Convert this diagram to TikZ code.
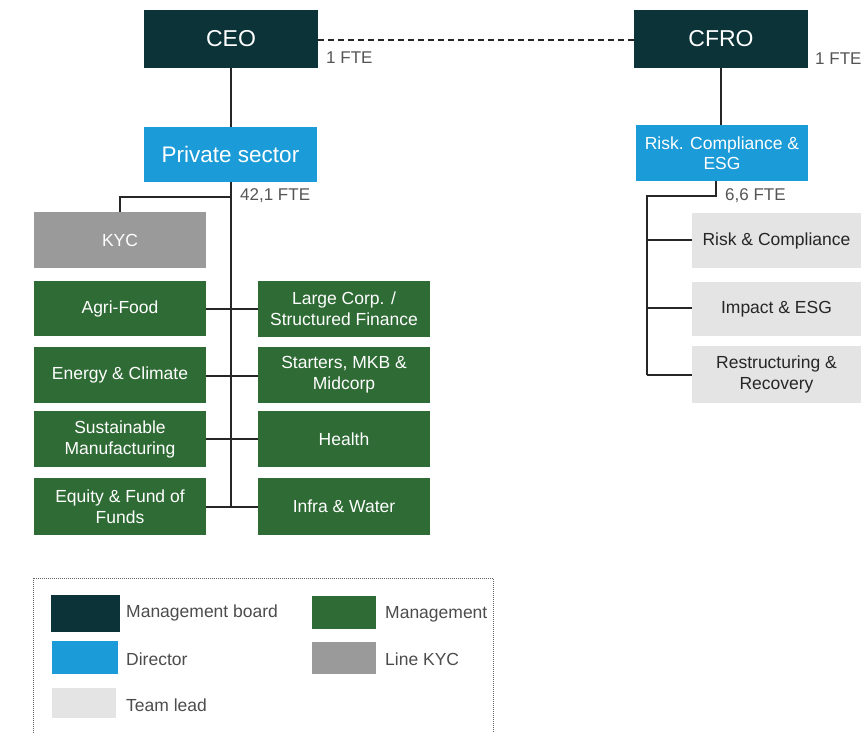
\documentclass[tikz,border=0pt]{standalone}
\usepackage{fontspec}
\setmainfont{Liberation Sans}
\definecolor{board}{HTML}{0B3338}
\definecolor{director}{HTML}{1B9BD7}
\definecolor{mgmt}{HTML}{2F6B35}
\definecolor{kyc}{HTML}{9A9A9A}
\definecolor{team}{HTML}{E4E4E4}
\definecolor{fte}{HTML}{555555}
\begin{document}
\begin{tikzpicture}[x=1pt,y=-1pt,
  boardbox/.style={fill=board,text=white,font=\fontsize{23}{25}\selectfont},
  dirbox/.style={fill=director,text=white},
  mgmtbox/.style={fill=mgmt,text=white,font=\fontsize{17.5}{21}\selectfont},
  kycbox/.style={fill=kyc,text=white,font=\fontsize{17.5}{21}\selectfont},
  teambox/.style={fill=team,text=black!85,font=\fontsize{17.5}{21}\selectfont},
  ftelbl/.style={text=fte,font=\fontsize{17}{19}\selectfont,inner sep=0pt,anchor=west},
  conn/.style={draw=black!85,line width=1.3pt},
  leglbl/.style={text=black!70,font=\fontsize{17.5}{19}\selectfont,inner sep=0pt,anchor=west}]
\useasboundingbox (0,0) rectangle (861,732);
% boxes
\path[boardbox] (144,10) rectangle (318,68) node[midway,text=white] (ceo) {CEO};
\path[boardbox] (634,10) rectangle (808,68) node[midway,text=white] (cfro) {CFRO};
\path[dirbox] (144,127) rectangle (317,182) node[midway,text=white,font=\fontsize{22.5}{24}\selectfont] (ps) {Private sector};
\path[dirbox] (636,125) rectangle (808,181) node[midway,text=white,align=center,font=\fontsize{17.5}{20}\selectfont] (rce) {Risk. Compliance \&\\ESG};
\path[kycbox] (34,212) rectangle (206,268) node[midway,text=white] (kyc) {KYC};
\path[mgmtbox] (34,281) rectangle (206,336) node[midway,text=white] (agri) {Agri-Food};
\path[mgmtbox] (258,281) rectangle (430,337) node[midway,text=white,align=center] (large) {Large Corp. /\\Structured Finance};
\path[mgmtbox] (34,347) rectangle (206,403) node[midway,text=white] (energy) {Energy \& Climate};
\path[mgmtbox] (258,347) rectangle (430,403) node[midway,text=white,align=center] (start) {Starters, MKB \&\\Midcorp};
\path[mgmtbox] (34,411) rectangle (206,467) node[midway,text=white,align=center] (sust) {Sustainable\\Manufacturing};
\path[mgmtbox] (258,411) rectangle (430,467) node[midway,text=white] (health) {Health};
\path[mgmtbox] (34,478) rectangle (206,535) node[midway,text=white,align=center] (equity) {Equity \& Fund of\\Funds};
\path[mgmtbox] (258,478) rectangle (430,535) node[midway,text=white] (infra) {Infra \& Water};
\path[teambox] (692,213) rectangle (861,268) node[midway,text=black!85] (rc) {Risk \& Compliance};
\path[teambox] (692,282) rectangle (861,336) node[midway,text=black!85] (ie) {Impact \& ESG};
\path[teambox] (692,346) rectangle (861,403) node[midway,text=black!85,align=center] (rr) {Restructuring \&\\Recovery};
% coordinates
\coordinate (ceoR) at (318,40);
\coordinate (cfroL) at (634,40);
\coordinate (ceoB) at (231,68);
\coordinate (psT) at (231,127);
\coordinate (psB) at (231,182);
\coordinate (cfroB) at (721,68);
\coordinate (rceT) at (721,125);
\coordinate (rceB) at (716,181);
\coordinate (kycT) at (120,212);
% FTE labels
\node[ftelbl] (f1) at (326,58) {1 FTE};
\node[ftelbl] (f2) at (815,59) {1 FTE};
\node[ftelbl] (f3) at (240,196) {42,1 FTE};
\node[ftelbl] (f4) at (725,196) {6,6 FTE};
% connectors
\draw[conn,dash pattern=on 6pt off 4pt,line width=1.2pt] (ceoR) -- (cfroL);
\draw[conn] (ceoB) -- (psT);
\draw[conn] (cfroB) -- (rceT);
\draw[conn] (psB) -- (231,507);
\draw[conn] (231,197) -| (kycT);
\draw[conn] (206,309) -- (258,309);
\draw[conn] (206,376) -- (258,376);
\draw[conn] (206,439) -- (258,439);
\draw[conn] (206,507) -- (258,507);
\draw[conn] (rceB) -- (716,196) -| (647,375);
\draw[conn] (647,240) -- (692,240);
\draw[conn] (647,308) -- (692,308);
\draw[conn] (647,375) -- (692,375);
% legend
\draw[black!60,densely dotted,line width=1pt] (33,578) rectangle (493,740);
\fill[board] (51,595) rectangle (120,632);
\node[leglbl] (l1) at (126,613) {Management board};
\fill[mgmt] (312,596) rectangle (376,629);
\node[leglbl] (l2) at (385,614) {Management};
\fill[director] (52,641) rectangle (118,674);
\node[leglbl] (l3) at (126,659) {Director};
\fill[kyc] (312,642) rectangle (376,674);
\node[leglbl] (l4) at (385,659) {Line KYC};
\fill[team] (52,688) rectangle (116,718);
\node[leglbl] (l5) at (126,705) {Team lead};
\end{tikzpicture}
\end{document}
